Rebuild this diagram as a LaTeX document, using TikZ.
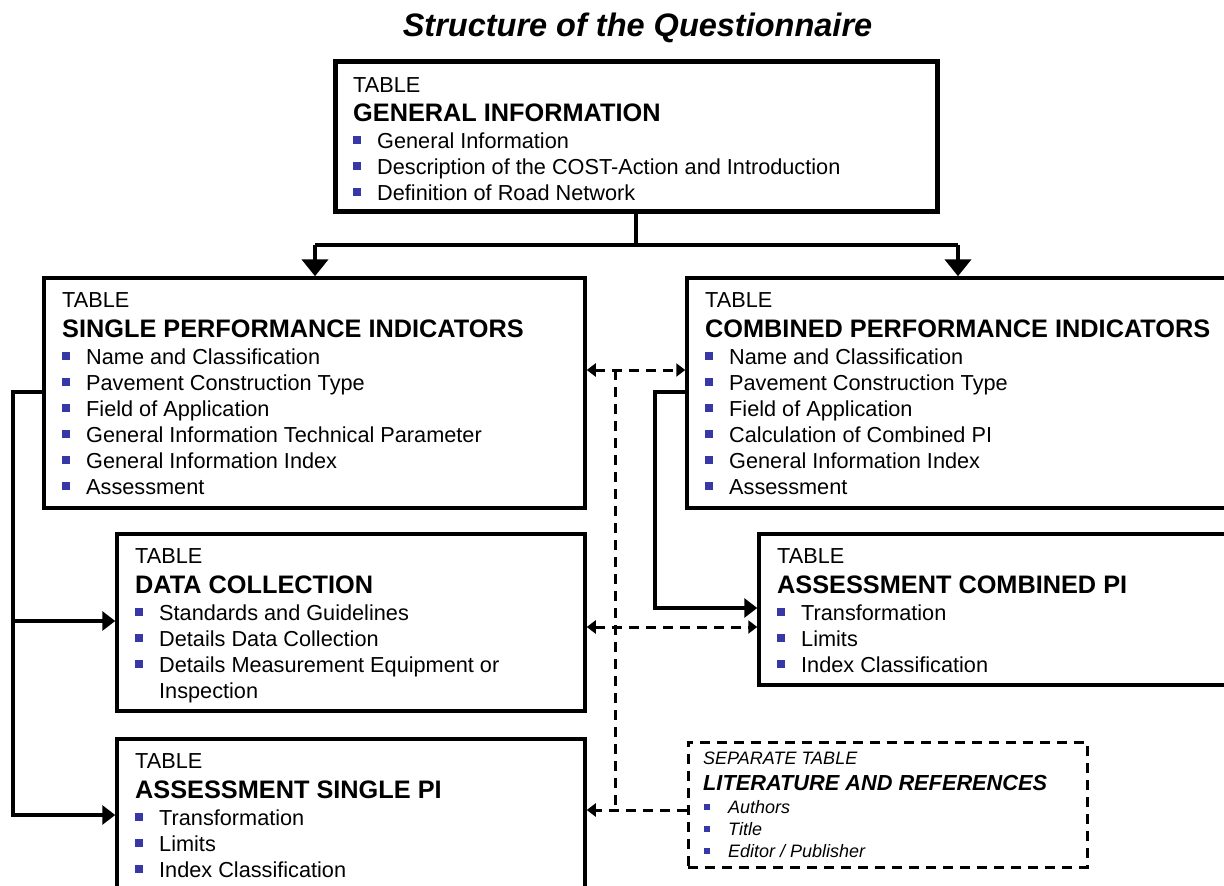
\documentclass[tikz,border=0pt]{standalone}
\usepackage{fontspec}
\setmainfont{Liberation Sans}
\usetikzlibrary{arrows.meta}
\definecolor{bulletblue}{RGB}{55,55,165}
\tikzset{
  tbox/.style={draw=black, line width=3.5pt, fill=white, inner sep=0pt, shape=rectangle},
  gibox/.style={tbox, line width=5pt},
  litbox/.style={tbox, line width=3pt, dash pattern=on 10pt off 7pt},
  txt/.style={anchor=base west, inner sep=0pt, font=\fontsize{21.7}{26}\selectfont},
  hd/.style={anchor=base west, inner sep=0pt, font=\fontsize{25.3}{30}\selectfont\bfseries},
  littxt/.style={anchor=base west, inner sep=0pt, font=\fontsize{18}{22}\selectfont\itshape},
  lithd/.style={anchor=base west, inner sep=0pt, font=\fontsize{21.75}{26}\selectfont\bfseries\itshape},
  blt/.style={fill=bulletblue, minimum size=7.5pt, inner sep=0pt, shape=rectangle},
  litblt/.style={fill=bulletblue, minimum size=6.5pt, inner sep=0pt, shape=rectangle},
  conn/.style={line width=4.5pt},
  dconn/.style={line width=3pt, dash pattern=on 10pt off 7pt},
  bigtip/.style={-{Triangle[length=17pt,width=26pt]}},
  midtip/.style={-{Triangle[length=13pt,width=19pt]}},
  smtip/.style={-{Triangle[length=9pt,width=13pt]}},
  smtips/.style={{Triangle[length=9pt,width=13pt]}-{Triangle[length=9pt,width=13pt]}},
}
\newcommand{\itemlist}[5]{%
  \foreach \tx [count=\i] in {#5} {
    \node[txt] (#1-\i) at ({#2},{#3+#4*(\i-1)}) {\tx};
    \node[blt] (#1-b\i) at ({#2-20},{#3-8+#4*(\i-1)}) {};
  }}
\begin{document}
\begin{tikzpicture}[x=1pt,y=-1pt]
\useasboundingbox (0,0) rectangle (1224,886);
\fill[white] (0,0) rectangle (1224,886);
\clip (0,0) rectangle (1224,886);

% title
\node[anchor=base, inner sep=0pt, font=\fontsize{32.5}{38}\selectfont\bfseries\itshape] (title) at (637.5,36) {Structure of the Questionnaire};

% boxes
\node[gibox, minimum width=602pt, minimum height=150pt] (gi) at (636,136) {};
\node[tbox, minimum width=541pt, minimum height=230pt] (spi) at (314.5,393) {};
\node[tbox, minimum width=573pt, minimum height=230pt] (cpi) at (973.5,393) {};
\node[tbox, minimum width=468pt, minimum height=177pt] (dc) at (351,622.5) {};
\node[tbox, minimum width=501pt, minimum height=151pt] (acpi) at (1009.5,609.5) {};
\node[tbox, minimum width=468pt, minimum height=171pt] (aspi) at (351,824.5) {};
\node[litbox, minimum width=399pt, minimum height=125pt] (lit) at (887.5,804.5) {};

% GI text
\node[txt] (gi-t) at (353,92) {TABLE};
\node[hd] (gi-h) at (353,121) {GENERAL INFORMATION};
\itemlist{gi}{377}{148}{26}{General Information, Description of the COST-Action and Introduction, Definition of Road Network}

% SPI text
\node[txt] (spi-t) at (62,307) {TABLE};
\node[hd] (spi-h) at (62,337) {SINGLE PERFORMANCE INDICATORS};
\itemlist{spi}{86}{364}{26}{Name and Classification, Pavement Construction Type, Field of Application, General Information Technical Parameter, General Information Index, Assessment}

% CPI text
\node[txt] (cpi-t) at (705,307) {TABLE};
\node[hd] (cpi-h) at (705,337) {COMBINED PERFORMANCE INDICATORS};
\itemlist{cpi}{729}{364}{26}{Name and Classification, Pavement Construction Type, Field of Application, Calculation of Combined PI, General Information Index, Assessment}

% DC text
\node[txt] (dc-t) at (135,563) {TABLE};
\node[hd] (dc-h) at (135,593) {DATA COLLECTION};
\itemlist{dc}{159}{620}{26}{Standards and Guidelines, Details Data Collection, Details Measurement Equipment or}
\node[txt] (dc-4) at (159,698) {Inspection};

% ACPI text
\node[txt] (acpi-t) at (777,563) {TABLE};
\node[hd] (acpi-h) at (777,593) {ASSESSMENT COMBINED PI};
\itemlist{acpi}{801}{620}{26}{Transformation, Limits, Index Classification}

% ASPI text
\node[txt] (aspi-t) at (135,768) {TABLE};
\node[hd] (aspi-h) at (135,798) {ASSESSMENT SINGLE PI};
\itemlist{aspi}{159}{825}{26}{Transformation, Limits, Index Classification}

% LIT text
\node[littxt] (lit-t) at (703,764) {SEPARATE TABLE};
\node[lithd] (lit-h) at (703,790) {LITERATURE AND REFERENCES};
\foreach \tx [count=\i] in {Authors, Title, Editor / Publisher} {
  \node[littxt] (lit-\i) at (728,{813+22*(\i-1)}) {\tx};
  \node[litblt] (lit-b\i) at (707,{807+22*(\i-1)}) {};
}

% solid connectors from GI
\coordinate (gj) at (636,245);
\coordinate (gl) at (315,245);
\coordinate (gr) at (958,245);
\draw[conn] (gi.south) -- (gj);
\draw[conn] (gl) -- (gr);
\draw[conn,bigtip] (gl) -- (spi.north -| gl);
\draw[conn,bigtip] (gr) -- (cpi.north -| gr);

% left solid connector
\coordinate (lt) at (13,392);
\coordinate (lm) at (13,621);
\coordinate (lb) at (13,815);
\draw[conn,midtip] (spi.west |- lt) -- (lt) -- (lb) -- (aspi.west |- lb);
\draw[conn,midtip] (lm) -- (dc.west |- lm);

% right solid connector
\coordinate (rt) at (655,392);
\coordinate (rb) at (655,608);
\draw[conn,midtip] (cpi.west |- rt) -- (rt) -- (rb) -- (acpi.west |- rb);

% dashed connectors
\coordinate (vt) at (615,370);
\coordinate (vm) at (615,627);
\coordinate (vb) at (615,810);
\draw[dconn] (vt) -- (vb);
\draw[dconn,smtips] (spi.east |- vt) -- (cpi.west |- vt);
\draw[dconn,smtips] (dc.east |- vm) -- (acpi.west |- vm);
\draw[dconn,smtip] (lit.west |- vb) -- (aspi.east |- vb);
\end{tikzpicture}
\end{document}
